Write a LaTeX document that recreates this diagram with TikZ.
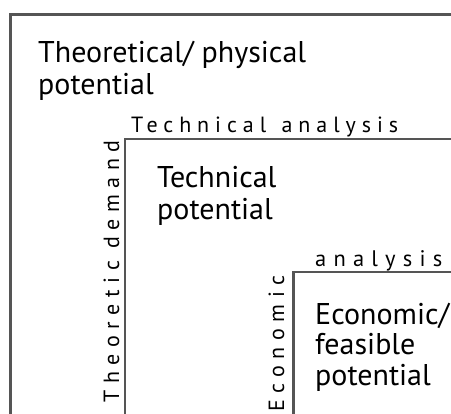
\documentclass[tikz,border=0pt]{standalone}
\usepackage{fontspec}
\setmainfont{PT Sans}
\newfontfamily\spacedfont[LetterSpace=32]{PT Sans}
\newfontfamily\tighterfont[LetterSpace=27]{PT Sans}
\newfontfamily\vertfont[LetterSpace=30]{PT Sans}
\definecolor{linegray}{HTML}{555555}
\begin{document}
\begin{tikzpicture}[x=1pt,y=-1pt,
  frame/.style={draw=linegray,line width=2.6pt},
  big/.style={font=\fontsize{30}{32}\selectfont,inner sep=0pt,anchor=base west},
  spaced/.style={font=\spacedfont\fontsize{22.5}{24}\selectfont,inner sep=0pt},
  spacedtop/.style={font=\tighterfont\fontsize{22}{24}\selectfont,inner sep=0pt},
  spacedvert/.style={font=\vertfont\fontsize{22}{24}\selectfont,inner sep=0pt},
]
\useasboundingbox (0,0) rectangle (451,414);
% frames
\coordinate (o1) at (10.5,414);
\coordinate (o2) at (10.5,14.5);
\coordinate (o3) at (451,14.5);
\draw[frame] (o1) -- (o2) -- (o3);
\coordinate (t1) at (125,414);
\coordinate (t2) at (125,139);
\coordinate (t3) at (451,139);
\draw[frame] (t1) -- (t2) -- (t3);
\coordinate (e1) at (293.5,414);
\coordinate (e2) at (293.5,272);
\coordinate (e3) at (451,272);
\draw[frame] (e1) -- (e2) -- (e3);
% big labels
\node[big] (th1) at (38,63) {Theoretical/ physical};
\node[big] (th2) at (38,95) {potential};
\node[big] (te1) at (157,188) {Technical};
\node[big] (te2) at (157,220) {potential};
\node[big] (ec1) at (315,325) {Economic/};
\node[big] (ec2) at (315,355) {feasible};
\node[big] (ec3) at (315,386) {potential};
% spaced labels
\node[spacedtop,anchor=base west] (ta) at (131,133) {Technical\hspace{0.7em}analysis};
\node[spaced,anchor=base west] (ea) at (315,267) {analysis};
\node[spacedvert,anchor=base east,rotate=90] (td) at (119,140) {Theoretic\hspace{0.55em}demand};
\node[spacedvert,anchor=base east,rotate=90] (ed) at (284,275) {Economic};
\end{tikzpicture}
\end{document}
